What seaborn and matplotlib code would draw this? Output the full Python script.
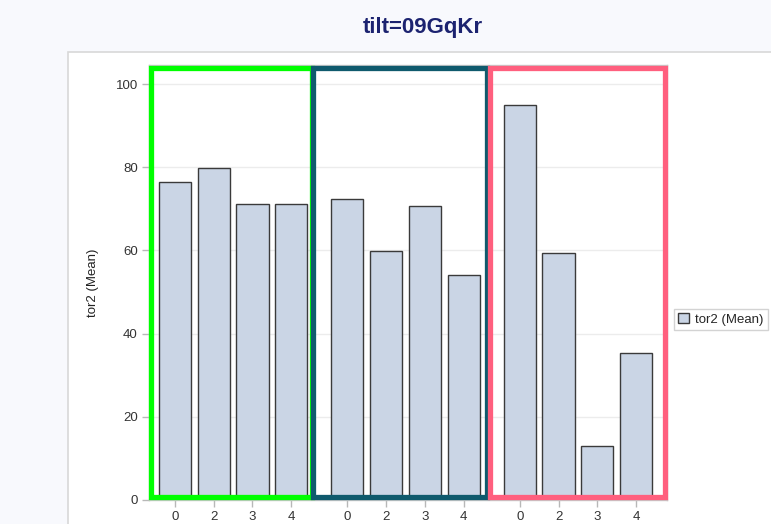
import numpy as np
import pandas as pd
import matplotlib
matplotlib.use("Agg")
import matplotlib.pyplot as plt
import matplotlib.patches as mpatches
import seaborn as sns

# data
groups = ["g1", "g2", "g3"]
labels = ["0", "2", "3", "4"]
g1_vals = [76.5, 79.8, 71.2, 71.2]
g2_vals = [72.4, 59.9, 70.7, 54.1]
g3_vals = [95.0, 59.4, 13.0, 35.3]
box_colors = ["#00ff00", "#0f5a6d", "#ff5f7e"]
# frame padding (left, right) around each group, in bar units
box_pad = [(0.62, 0.54), (0.88, 0.60), (0.78, 0.75)]

gap = 0.45
rows = []
for g, vals in enumerate([g1_vals, g2_vals, g3_vals]):
    for i, (lab, v) in enumerate(zip(labels, vals)):
        rows.append({"group": groups[g], "label": lab, "pos": g * (4 + gap) + i, "tor2": v})
df = pd.DataFrame(rows)

sns.set_style("white")
plt.rcParams["font.family"] = ["Liberation Sans", "DejaVu Sans"]

fig = plt.figure(figsize=(7.71, 5.24), dpi=100)
fig.patch.set_facecolor("#f8f9fd")
# white panel behind the chart
panel = mpatches.Rectangle((68 / 771, -0.1), 1.0, (524 - 52) / 524 + 0.1,
                           transform=fig.transFigure, facecolor="white",
                           edgecolor="#d8d8d8", linewidth=1.2, zorder=-10)
fig.patches.append(panel)

ax = fig.add_axes([149 / 771, 24 / 524, 518 / 771, 435 / 524])
ax.set_facecolor("white")
sns.barplot(data=df, x="pos", y="tor2", native_scale=True, width=0.83,
            color="#cad5e5", edgecolor="#3a3a3a", linewidth=1.0,
            saturation=1, errorbar=None, ax=ax, zorder=3)

ax.set_xlim(-0.67, df["pos"].max() + 0.8)
ax.set_ylim(0, 104.6)
ax.set_yticks([0, 20, 40, 60, 80, 100])
ax.set_xticks(df["pos"], df["label"])
ax.yaxis.grid(True, color="#ececec", linewidth=1, zorder=0)
ax.set_axisbelow(True)
for s in ax.spines.values():
    s.set_color("#c8c8c8")
    s.set_linewidth(1)
ax.tick_params(axis="both", bottom=True, left=True, length=5, width=1,
               color="#b8b8b8", labelsize=9.5, labelcolor="#333333",
               direction="out", pad=3)
ax.set_xlabel("")
ax.set_ylabel("tor2 (Mean)", fontsize=9.5, color="#222222", labelpad=12)

# coloured highlight frames around each group
for g, c in enumerate(box_colors):
    sub = df[df["group"] == groups[g]]
    x0 = sub["pos"].min() - box_pad[g][0]
    x1 = sub["pos"].max() + box_pad[g][1]
    rect = mpatches.Rectangle((x0, 0.7), x1 - x0, 103.1, fill=False,
                              edgecolor=c, linewidth=3.8, zorder=5,
                              clip_on=False)
    ax.add_patch(rect)

handle = mpatches.Patch(facecolor="#cad5e5", edgecolor="#3a3a3a", linewidth=1)
leg = ax.legend([handle], ["tor2 (Mean)"], loc="center left",
                bbox_to_anchor=(1.0, 0.415), frameon=True, fontsize=9.5,
                handlelength=0.8, handleheight=0.8, borderpad=0.35,
                handletextpad=0.5, fancybox=False)
leg.get_frame().set_edgecolor("#c8c8c8")
leg.get_frame().set_linewidth(1)

fig.text(423 / 771, 1 - 28 / 524, "tilt=09GqKr", ha="center", va="center",
         fontsize=16, fontweight="bold", color="#1c2370")

fig.savefig("out.png", dpi=100, facecolor=fig.get_facecolor())
